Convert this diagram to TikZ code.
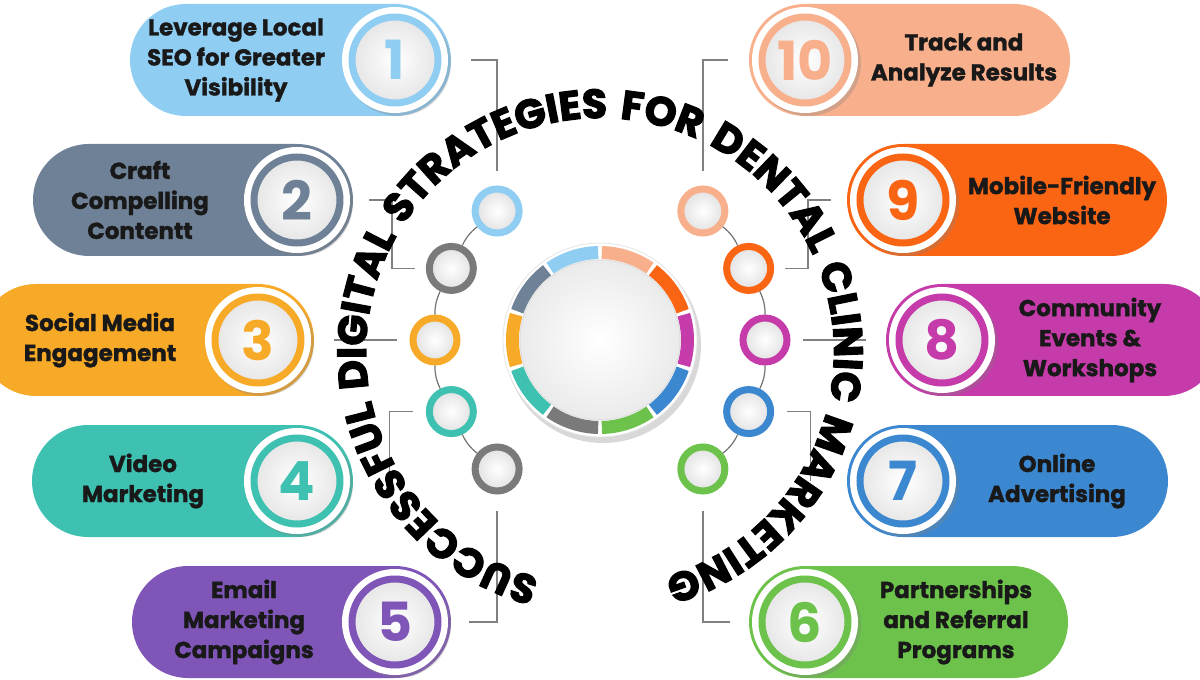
\documentclass[tikz,border=0pt]{standalone}
\usepackage{fontspec}
\setmainfont{Poppins}[BoldFeatures={FakeBold=1.4}]
\newfontfamily\headfont{Poppins}[BoldFeatures={FakeBold=3}]
\newfontfamily\digitfont{Poppins}
\usetikzlibrary{shadows, decorations.text}

\definecolor{c1}{HTML}{8FCDF3}
\definecolor{c2}{HTML}{6E8196}
\definecolor{c3}{HTML}{F7A928}
\definecolor{c4}{HTML}{3EC1B0}
\definecolor{c5}{HTML}{7F56B8}
\definecolor{c6}{HTML}{6CC24A}
\definecolor{c7}{HTML}{3C88D0}
\definecolor{c8}{HTML}{C43BA9}
\definecolor{c9}{HTML}{FA6514}
\definecolor{c10}{HTML}{F8AF8C}
\definecolor{ringgray}{HTML}{7A7A7A}

\begin{document}
\begin{tikzpicture}[x=0.5pt, y=0.5pt,
    pill/.style={fill=#1, rounded corners=28pt},
    numc/.style={circle, draw=#1, line width=3.5pt, minimum size=43pt, inner sep=0pt, inner color=white, outer color=black!10, text=#1, font=\digitfont\fontsize{27}{27}\selectfont\bfseries},
    lbl/.style={align=center, font=\fontsize{11.5}{15}\selectfont\bfseries, text=black!90},
    ring/.style={circle, draw=#1, line width=3.5pt, minimum size=22pt, inner sep=0pt, inner color=white, outer color=black!12, drop shadow={opacity=.25, shadow xshift=1pt, shadow yshift=-1.2pt}},
    link/.style={draw=black!50, line width=0.7pt},
    arcline/.style={draw=black!55, line width=0.6pt},
    hub/.style={circle, minimum size=80pt, inner sep=0pt, inner color=white, outer color=black!8, draw=black!12, line width=0.6pt}]

    \path[use as bounding box] (-600,-340) rectangle (600,340);
    \clip (-600,-340) rectangle (600,340);

    % pills with numbered disks
    \foreach \i/\col/\x/\y/\e/\tx/\txt in {
        1/c1/-205/280/-470/-364/{Leverage Local\\SEO for Greater\\Visibility},
        2/c2/-303/140/-567/-460/{Craft\\Compelling\\Contentt},
        3/c3/-342/0/-620/-500/{Social Media\\Engagement},
        4/c4/-303/-141/-568/-457/{Video\\Marketing},
        5/c5/-205/-282/-468/-356/{Email\\Marketing\\Campaigns},
        6/c6/205/-282/468/356/{Partnerships\\and Referral\\Programs},
        7/c7/303/-141/568/457/{Online\\Advertising},
        8/c8/342/0/620/490/{Community\\Events \&\\Workshops},
        9/c9/303/140/567/462/{Mobile-Friendly\\Website},
        10/c10/205/280/470/364/{Track and\\Analyze Results}} {
        \fill[pill=\col] (\e,\y-56) rectangle ({\x-56*sign(\x)},\y+56);
        \fill[white, drop shadow={opacity=.3, shadow xshift=1.5pt, shadow yshift=-1.5pt}] (\x,\y) circle[radius=53];
        \node[numc=\col] (n\i) at (\x,\y) {\i};
        \node[lbl] (t\i) at (\tx,\y) {\txt};
    }

    % center hub
    \fill[black!30, opacity=.5] (3,-5) circle[radius=98];
    \fill[white] (0,0) circle[radius=97];
    \draw[black!10] (0,0) circle[radius=97];
    \foreach \col [count=\k] in {c10, c9, c8, c7, c6, ringgray, c4, c3, c2, c1}
        \draw[\col, line width=6.5pt] ({90-36*(\k-1)-1.2}:87.5) arc[start angle={90-36*(\k-1)-1.2}, end angle={90-36*\k+1.2}, radius=87.5];
    \node[hub] (hub) at (0,0) {};

    % small rings
    \foreach \i/\col/\a in {1/c1/128.57, 2/ringgray/154.29, 3/c3/180, 4/c4/205.71, 5/ringgray/231.43,
        6/c6/308.57, 7/c7/334.29, 8/c8/0, 9/c9/25.71, 10/c10/51.43}
        \node[ring=\col] (r\i) at (\a:165) {};
    \foreach \p/\q in {1/2, 2/3, 3/4, 4/5}
        \draw[arcline] (r\p) to[bend right=13] (r\q);
    \foreach \p/\q in {10/9, 9/8, 8/7, 7/6}
        \draw[arcline] (r\p) to[bend left=13] (r\q);

    % links
    \draw[link, shorten <=15pt, shorten >=7pt] (n1.east) -| (r1.north);
    \draw[link, shorten <=13pt, shorten >=5.5pt] (n2.east) -| ([xshift=-17pt]r2.west) -- (r2.west);
    \draw[link, shorten <=15pt, shorten >=6pt] (n3.east) -- (r3.west);
    \draw[link, shorten <=6.5pt] (r4.west) -| ([xshift=23pt]n4.east);
    \draw[link, shorten <=8pt, shorten >=14pt] (r5.south) |- (n5.east);
    \draw[link, shorten <=15pt, shorten >=7pt] (n10.west) -| (r10.north);
    \draw[link, shorten <=13pt, shorten >=5.5pt] (n9.west) -| ([xshift=17pt]r9.east) -- (r9.east);
    \draw[link, shorten <=15pt, shorten >=6pt] (n8.west) -- (r8.east);
    \draw[link, shorten <=6.5pt] (r7.east) -| ([xshift=-23pt]n7.west);
    \draw[link, shorten <=8pt, shorten >=14pt] (r6.south) |- (n6.west);

    % curved title
    \path[decorate, decoration={text along path, text align={fit to path stretching spaces},
        text={|\headfont\bfseries\fontsize{20.3}{20.3}\selectfont|SUCCESSFUL DIGITAL STRATEGIES FOR DENTAL CLINIC MARKETING}}]
        (0,-12) ++(255:234) arc[start angle=255, end angle=-74, radius=234];

\end{tikzpicture}
\end{document}
